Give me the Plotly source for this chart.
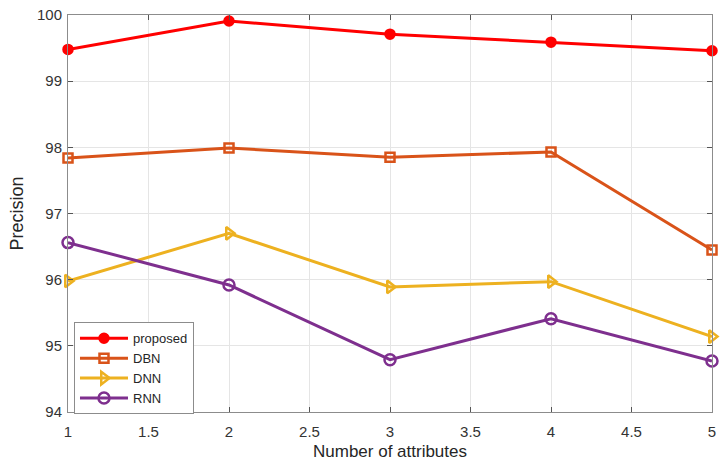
import plotly.graph_objects as go

# Precision of each method versus the number of attributes
attributes = [1, 2, 3, 4, 5]
proposed = [99.48, 99.91, 99.71, 99.59, 99.46]
dbn = [97.84, 97.99, 97.85, 97.93, 96.45]
dnn = [95.98, 96.70, 95.89, 95.97, 95.14]
rnn = [96.56, 95.92, 94.79, 95.41, 94.77]

x_ticks = [1, 1.5, 2, 2.5, 3, 3.5, 4, 4.5, 5]
x_tick_text = ["1", "1.5", "2", "2.5", "3", "3.5", "4", "4.5", "5"]
y_ticks = [94, 95, 96, 97, 98, 99, 100]

series = [
    ("proposed", proposed, "#FF0000", "circle", 9),
    ("DBN", dbn, "#D95319", "square-open", 9),
    ("DNN", dnn, "#EDB120", "triangle-right-open", 11),
    ("RNN", rnn, "#7E2F8E", "circle-open", 11),
]

fig = go.Figure()
for name, vals, color, symbol, size in series:
    fig.add_trace(go.Scatter(
        x=attributes, y=vals, name=name, mode="lines+markers",
        line=dict(color=color, width=3),
        marker=dict(symbol=symbol, size=size, color=color,
                    line=dict(color=color, width=2.5)),
        cliponaxis=False,
    ))

axis_common = dict(
    showgrid=True, gridcolor="#E5E5E5", gridwidth=1,
    showline=True, linecolor="#8C8C8C", linewidth=1, mirror="ticks",
    ticks="inside", ticklen=5, tickcolor="#555555", tickwidth=1,
    zeroline=False,
    tickfont=dict(family="Liberation Sans, Arial, sans-serif", size=15, color="#333333"),
)

fig.update_layout(
    width=721, height=463,
    margin=dict(l=68, r=5, t=15, b=51),
    paper_bgcolor="white", plot_bgcolor="white",
    font=dict(family="Liberation Sans, Arial, sans-serif", color="#262626"),
    xaxis=dict(range=[1, 5], tickvals=x_ticks, ticktext=x_tick_text,
               ticklabelstandoff=6,
               title=dict(text="Number of attributes", font=dict(size=17), standoff=6),
               **axis_common),
    yaxis=dict(range=[94, 100], tickvals=y_ticks,
               ticklabelstandoff=2,
               title=dict(text="Precision", font=dict(size=18), standoff=8),
               **axis_common),
    legend=dict(
        x=0.0093, y=0.226, xanchor="left", yanchor="top",
        bgcolor="white", bordercolor="#8C8C8C", borderwidth=1,
        font=dict(size=13, color="#262626"),
        itemwidth=48, tracegroupgap=0,
    ),
    showlegend=True,
)

fig.write_html("out.html")
